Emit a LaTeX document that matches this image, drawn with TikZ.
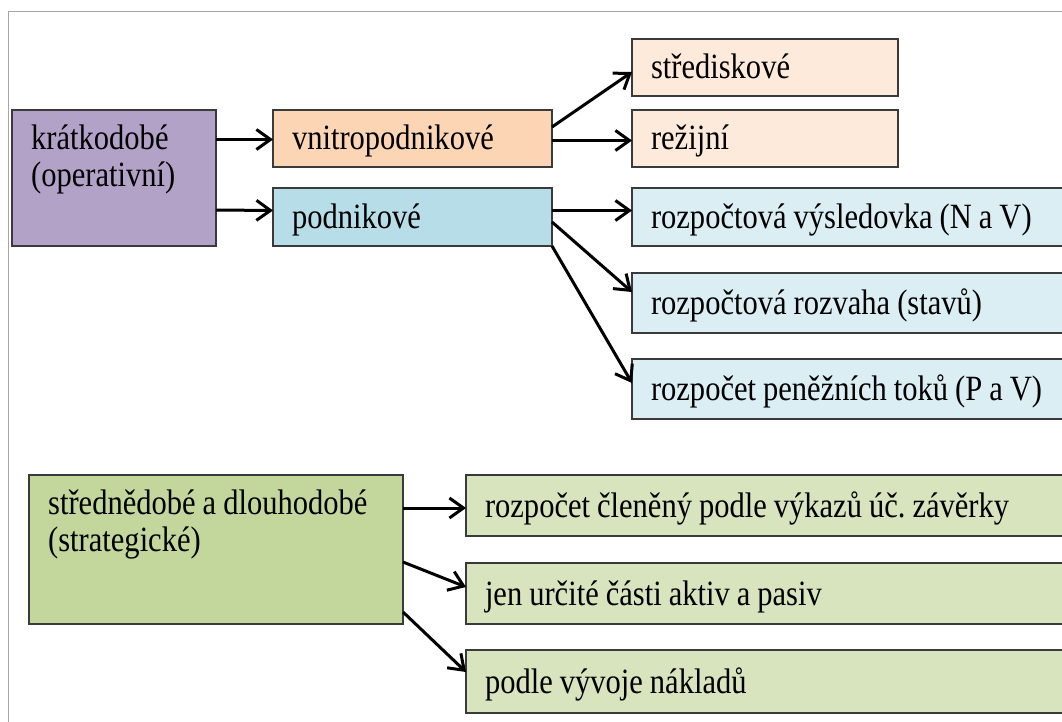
\documentclass[tikz,border=0pt]{standalone}
\usepackage{fontspec}
\setmainfont{Liberation Serif}[FakeStretch=0.86]
\usetikzlibrary{arrows.meta,calc}
\definecolor{framegray}{HTML}{A6A6A6}
\definecolor{edge}{HTML}{3A3A3A}
\definecolor{purp}{HTML}{B3A2C7}
\definecolor{orA}{HTML}{FCD5B5}
\definecolor{orB}{HTML}{FDEADA}
\definecolor{blA}{HTML}{B7DEE8}
\definecolor{blB}{HTML}{DBEEF4}
\definecolor{grA}{HTML}{C3D69B}
\definecolor{grB}{HTML}{D7E4BD}
\frenchspacing
\newcommand{\tightsp}{\spaceskip=7pt\relax\xspaceskip=7pt\relax}
\begin{document}
\begin{tikzpicture}[x=1pt,y=-1pt,
  every node/.style={font=\fontsize{35.5}{37}\selectfont\tightsp, execute at begin node=\tightsp},
  box/.style={draw=edge, line width=1.4pt, rectangle, anchor=north west, outer sep=0pt,
    inner ysep=0pt, inner xsep=19pt, text height=23pt, text depth=0pt},
  blank/.style={draw=edge, line width=1.4pt, rectangle, anchor=north west, outer sep=0pt, inner sep=0pt},
  lbl/.style={anchor=north west, inner sep=0pt},
  arr/.style={line width=3pt, -{Straight Barb[length=14pt,width=20pt,line width=3pt]}}
]
\useasboundingbox (0,0) rectangle (1062,722);
\clip (0,0) rectangle (1062,722);
\draw[framegray, line width=1pt] (8,12) rectangle (1120,800);

% short-term
\node[blank, fill=purp, minimum width=204pt, minimum height=136pt] (kr) at (12,110) {};
\node[lbl, text width=180pt] (krt) at (31,123.1) {\strut krátkodobé\\(operativní)};
\node[box, fill=orA, text width=241pt, minimum height=57pt] (vn) at (273,110) {vnitropodnikové};
\node[box, fill=blA, text width=241pt, minimum height=58pt] (pod) at (273,188) {podnikové};
\node[box, fill=orB, text width=228pt, minimum height=57pt] (st) at (632,39) {střediskové};
\node[box, fill=orB, text width=228pt, minimum height=57pt] (re) at (632,110) {režijní};
\node[box, fill=blB, text width=430pt, minimum height=58pt] (vys) at (632,188) {rozpočtová výsledovka (N a V)};
\node[box, fill=blB, text width=430pt, minimum height=60pt] (roz) at (632,273) {rozpočtová rozvaha (stavů)};
\node[box, fill=blB, text width=430pt, minimum height=60pt] (tok) at (632,359) {rozpočet peněžních toků (P a V)};

% long-term
\node[blank, fill=grA, minimum width=374pt, minimum height=149pt] (sd) at (29,475) {};
\node[lbl, text width=350pt] (sdt) at (48,488.1) {\strut střednědobé a dlouhodobé\\(strategické)};
\node[box, fill=grB, text width=596pt, minimum height=61pt] (r1) at (466,475) {rozpočet členěný podle výkazů úč. závěrky};
\node[box, fill=grB, text width=596pt, minimum height=61pt] (r2) at (466,563) {jen určité části aktiv a pasiv};
\node[box, fill=grB, text width=596pt, minimum height=63pt] (r3) at (466,650) {podle vývoje nákladů};

% connectors
\draw[arr] ($(kr.north east)+(0,29.5)$) -- ($(vn.north west)+(0,29.5)$);
\draw[arr] ($(kr.north east)+(0,100)$) -- ($(pod.north west)+(0,22.5)$);
\draw[arr] ($(vn.north east)+(0,17)$) -- ($(st.north west)+(0,33)$);
\draw[arr] ($(vn.north east)+(0,30.5)$) -- ($(re.north west)+(0,30.5)$);
\draw[arr] ($(pod.north east)+(0,22.5)$) -- ($(vys.north west)+(0,22.5)$);
\draw[arr] ($(pod.north east)+(0,34)$) -- ($(roz.north west)+(0,19)$);
\draw[arr] (pod.south east) -- ($(tok.north west)+(0,24)$);
\draw[arr] ($(sd.north east)+(0,33)$) -- ($(r1.north west)+(0,33)$);
\draw[arr] ($(sd.north east)+(0,87)$) -- ($(r2.north west)+(0,24)$);
\draw[arr] ($(sd.north east)+(0,137)$) -- ($(r3.north west)+(0,22)$);
\end{tikzpicture}
\end{document}
